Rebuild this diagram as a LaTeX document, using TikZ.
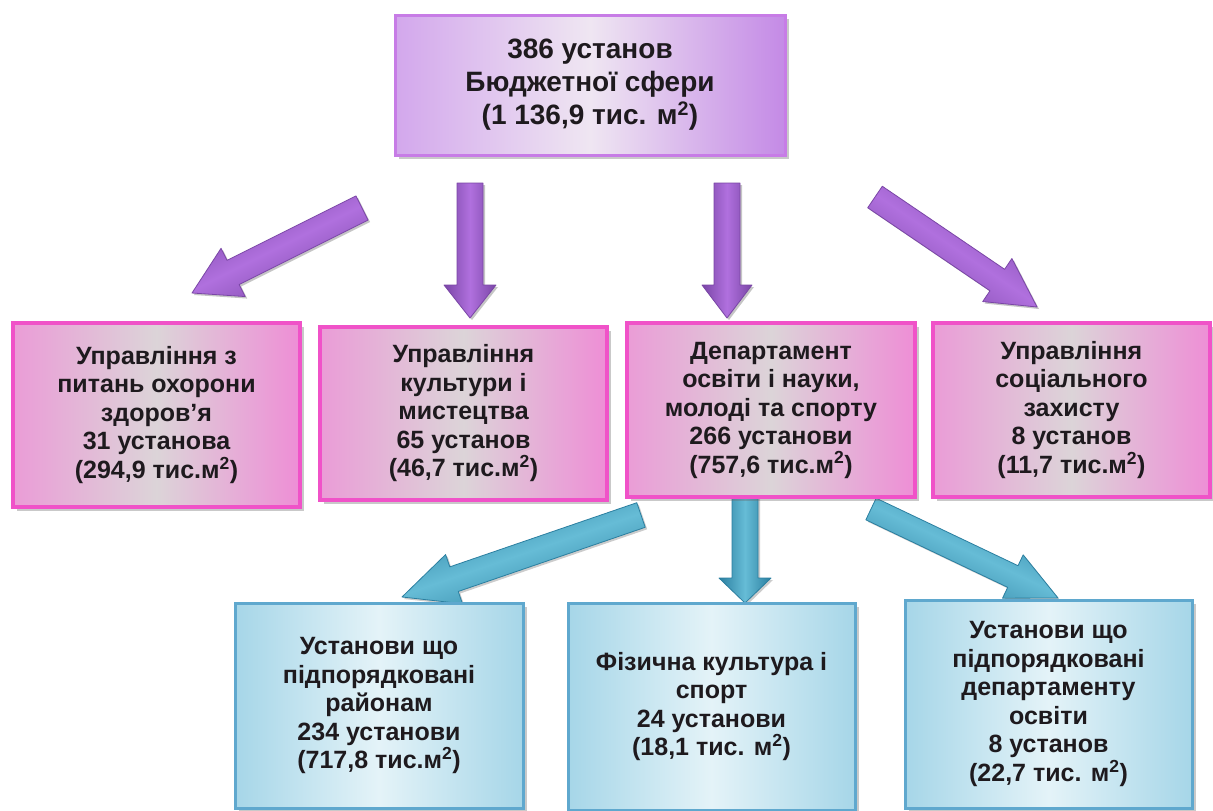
\documentclass[tikz,border=0pt]{standalone}
\usepackage{fontspec}
\setmainfont{Liberation Sans}
\usetikzlibrary{calc,shadows}

\definecolor{txt}{HTML}{1E1A1E}
\definecolor{vioBorder}{HTML}{C77CE6}
\definecolor{vioEdge}{HTML}{C48AE6}
\definecolor{vioLight}{HTML}{EFE6F2}
\definecolor{pinkBorder}{HTML}{F052C8}
\definecolor{pinkEdge}{HTML}{EE8ED6}
\definecolor{pinkMid}{HTML}{DCD4D8}
\definecolor{blueBorder}{HTML}{5FA8CE}
\definecolor{blueEdge}{HTML}{A6D6E8}
\definecolor{blueLight}{HTML}{E4F3F8}
\definecolor{arrVioLight}{HTML}{B070DE}
\definecolor{arrVioDark}{HTML}{7A46A6}
\definecolor{arrBlueLight}{HTML}{66BCD6}
\definecolor{arrBlueDark}{HTML}{2B7FA0}

% block arrow: style, tail, tip, half shaft width, half head width, head length
\newcommand{\blockarrow}[6]{%
  \coordinate (hb) at ($(#3)!#6!(#2)$);
  \path[#1] ($(#2)!#4!90:(#3)$) -- ($(hb)!#4!-90:(#2)$) -- ($(hb)!#5!-90:(#2)$)
    -- (#3) -- ($(hb)!#5!90:(#2)$) -- ($(hb)!#4!90:(#2)$) -- ($(#2)!#4!-90:(#3)$) -- cycle;}

\tikzset{
  box/.style={rectangle, align=center, text=txt, inner sep=0pt,
    font=\bfseries\fontsize{25}{28.5}\selectfont,
    drop shadow={shadow xshift=4pt, shadow yshift=-4pt, opacity=0.35, fill=black!60}},
  topbox/.style={box, draw=vioBorder, line width=3pt,
    left color=vioEdge!75!white, right color=vioEdge, middle color=vioLight,
    font=\bfseries\fontsize{28}{33}\selectfont},
  midbox/.style={box, draw=pinkBorder, line width=3.5pt,
    left color=pinkEdge!80!pinkMid, right color=pinkEdge, middle color=pinkMid},
  lowbox/.style={box, draw=blueBorder, line width=3pt,
    left color=blueEdge, right color=blueEdge, middle color=blueLight},
  arrowP/.style={top color=arrVioDark, bottom color=arrVioDark, middle color=arrVioLight,
    draw=arrVioDark, line width=0.8pt, line join=round,
    drop shadow={shadow xshift=2pt, shadow yshift=-2pt, opacity=0.45}},
  arrowB/.style={top color=arrBlueDark, bottom color=arrBlueDark, middle color=arrBlueLight,
    draw=arrBlueDark, line width=0.8pt, line join=round,
    drop shadow={shadow xshift=2pt, shadow yshift=-2pt, opacity=0.4}}
}

\begin{document}
\begin{tikzpicture}[x=1pt,y=-1pt]
\useasboundingbox (0,0) rectangle (1213,811);
\fill[white] (0,0) rectangle (1213,811);

% arrow ends
\coordinate (ta1) at (362,208);  \coordinate (pa1) at (192,293);
\coordinate (ta2) at (470,183);  \coordinate (pa2) at (470,318);
\coordinate (ta3) at (727,183);  \coordinate (pa3) at (727,318);
\coordinate (ta4) at (875,197);  \coordinate (pa4) at (1037,307);
\coordinate (tb1) at (641,515);  \coordinate (pb1) at (402,597);
\coordinate (tb2) at (745,497);  \coordinate (pb2) at (745,603);
\coordinate (tb3) at (871,509);  \coordinate (pb3) at (1058,598);

\blockarrow{arrowP, shading angle=26.6}{ta1}{pa1}{13.5pt}{27pt}{46pt}
\blockarrow{arrowP, shading angle=90}{ta2}{pa2}{13pt}{26pt}{33pt}
\blockarrow{arrowP, shading angle=90}{ta3}{pa3}{13pt}{25pt}{33pt}
\blockarrow{arrowP, shading angle=-34.2}{ta4}{pa4}{13pt}{26pt}{48pt}
\blockarrow{arrowB, shading angle=18.9}{tb1}{pb1}{13pt}{26pt}{55pt}
\blockarrow{arrowB, shading angle=90}{tb2}{pb2}{13pt}{26pt}{25pt}
\blockarrow{arrowB, shading angle=-25.4}{tb3}{pb3}{12pt}{24pt}{50pt}

% top level
\node[topbox, minimum width=390pt, minimum height=140pt] (top) at (590,85)
  {386 установ\\Бюджетної сфери\\(1 136,9 тис. м\textsuperscript{2})};

% second level
\node[midbox, minimum width=287pt, minimum height=184pt] (m1) at (156.5,415)
  {Управління з\\питань охорони\\здоров'я\\31 установа\\(294,9 тис.м\textsuperscript{2})};
\node[midbox, minimum width=287pt, minimum height=173pt] (m2) at (463.5,413.5)
  {Управління\\культури і\\мистецтва\\65 установ\\(46,7 тис.м\textsuperscript{2})};
\node[midbox, minimum width=288pt, minimum height=174pt] (m3) at (771,410)
  {Департамент\\освіти і науки,\\молоді та спорту\\266 установи\\(757,6 тис.м\textsuperscript{2})};
\node[midbox, minimum width=277pt, minimum height=174pt] (m4) at (1071.5,410)
  {Управління\\соціального\\захисту\\8 установ\\(11,7 тис.м\textsuperscript{2})};

% third level
\node[lowbox, minimum width=288pt, minimum height=205pt] (b1) at (379,705.5)
  {Установи що\\підпорядковані\\районам\\234 установи\\(717,8 тис.м\textsuperscript{2})};
\node[lowbox, minimum width=287pt, minimum height=207pt] (b2) at (711.5,706.5)
  {Фізична культура і\\спорт\\24 установи\\(18,1 тис. м\textsuperscript{2})};
\node[lowbox, minimum width=287pt, minimum height=208pt] (b3) at (1048.5,704)
  {Установи що\\підпорядковані\\департаменту\\освіти\\8 установ\\(22,7 тис. м\textsuperscript{2})};
\end{tikzpicture}
\end{document}
